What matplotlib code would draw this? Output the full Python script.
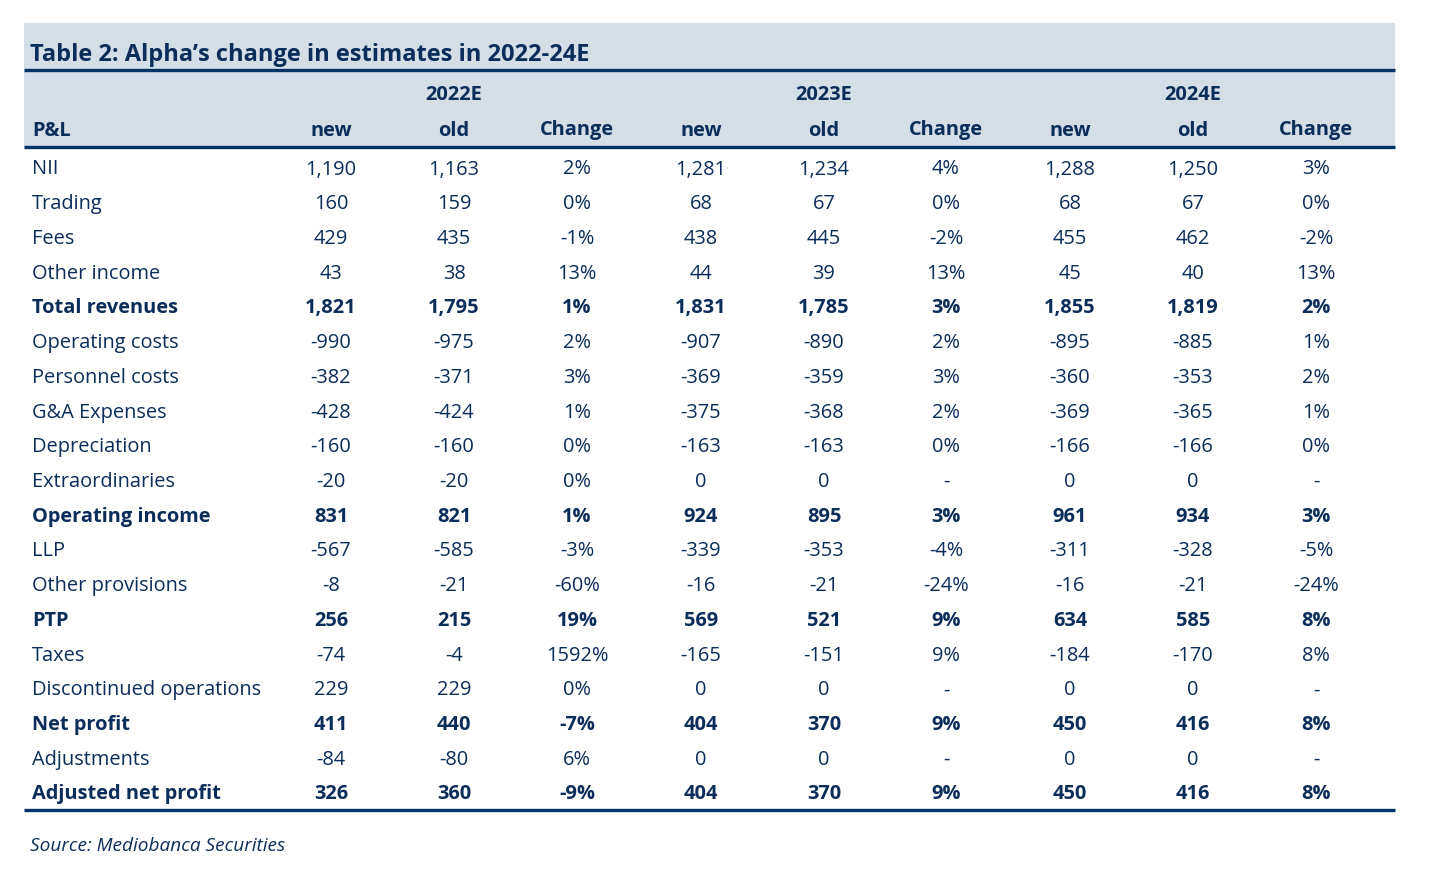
import matplotlib.pyplot as plt
from matplotlib.patches import Rectangle

plt.rcParams['font.family'] = ['Open Sans', 'DejaVu Sans']

title = "Table 2: Alpha\u2019s change in estimates in 2022-24E"
years = ["2022E", "2023E", "2024E"]
subcols = ["new", "old", "Change"]
source = "Source: Mediobanca Securities"

rows = ["NII", "Trading", "Fees", "Other income", "Total revenues", "Operating costs",
        "Personnel costs", "G&A Expenses", "Depreciation", "Extraordinaries",
        "Operating income", "LLP", "Other provisions", "PTP", "Taxes",
        "Discontinued operations", "Net profit", "Adjustments", "Adjusted net profit"]
bold_rows = ["Total revenues", "Operating income", "PTP", "Net profit", "Adjusted net profit"]

new_2022 = ["1,190", "160", "429", "43", "1,821", "-990", "-382", "-428", "-160", "-20",
            "831", "-567", "-8", "256", "-74", "229", "411", "-84", "326"]
old_2022 = ["1,163", "159", "435", "38", "1,795", "-975", "-371", "-424", "-160", "-20",
            "821", "-585", "-21", "215", "-4", "229", "440", "-80", "360"]
chg_2022 = ["2%", "0%", "-1%", "13%", "1%", "2%", "3%", "1%", "0%", "0%",
            "1%", "-3%", "-60%", "19%", "1592%", "0%", "-7%", "6%", "-9%"]
new_2023 = ["1,281", "68", "438", "44", "1,831", "-907", "-369", "-375", "-163", "0",
            "924", "-339", "-16", "569", "-165", "0", "404", "0", "404"]
old_2023 = ["1,234", "67", "445", "39", "1,785", "-890", "-359", "-368", "-163", "0",
            "895", "-353", "-21", "521", "-151", "0", "370", "0", "370"]
chg_2023 = ["4%", "0%", "-2%", "13%", "3%", "2%", "3%", "2%", "0%", "-",
            "3%", "-4%", "-24%", "9%", "9%", "-", "9%", "-", "9%"]
new_2024 = ["1,288", "68", "455", "45", "1,855", "-895", "-360", "-369", "-166", "0",
            "961", "-311", "-16", "634", "-184", "0", "450", "0", "450"]
old_2024 = ["1,250", "67", "462", "40", "1,819", "-885", "-353", "-365", "-166", "0",
            "934", "-328", "-21", "585", "-170", "0", "416", "0", "416"]
chg_2024 = ["3%", "0%", "-2%", "13%", "2%", "1%", "2%", "1%", "0%", "-",
            "3%", "-5%", "-24%", "8%", "8%", "-", "8%", "-", "8%"]

columns = [new_2022, old_2022, chg_2022, new_2023, old_2023, chg_2023,
           new_2024, old_2024, chg_2024]

navy = "#0B2D5A"
line_c = "#003366"
band = "#D3DEE6"

W, H = 1430, 873
fig = plt.figure(figsize=(W / 100, H / 100), dpi=100)
ax = fig.add_axes([0, 0, 1, 1])
ax.set_xlim(0, W)
ax.set_ylim(H, 0)
ax.axis("off")

left, right = 24, 1395
col_x = [331, 454, 577, 701, 824, 946, 1070, 1193, 1316]
year_x = [454, 824, 1193]

# bands
ax.add_patch(Rectangle((left, 23), right - left, 46, color=band, lw=0))
ax.add_patch(Rectangle((left, 70), right - left, 77, color=band, lw=0))
for y in [69.5, 147, 810]:
    ax.plot([left, right], [y, y], color=line_c, lw=2.4, solid_capstyle="butt")

fs = 14.4
va = "center_baseline"
ax.text(30, 52, title, fontsize=17, fontweight="bold", color=navy, va=va)
for x, yr in zip(year_x, years):
    ax.text(x, 92, yr, fontsize=fs, fontweight="bold", color=navy, ha="center", va=va)
ax.text(32, 128, "P&L", fontsize=fs, fontweight="bold", color=navy, va=va)
for i, x in enumerate(col_x):
    ax.text(x, 128, subcols[i % 3], fontsize=fs, fontweight="bold", color=navy,
            ha="center", va=va)

y0, dy = 167, 34.72
for r, name in enumerate(rows):
    y = y0 + r * dy
    wt = "bold" if name in bold_rows else "normal"
    ax.text(32, y, name, fontsize=fs, fontweight=wt, color=navy, va=va)
    for x, col in zip(col_x, columns):
        ax.text(x, y, col[r], fontsize=fs, fontweight=wt, color=navy,
                ha="center", va=va)

ax.text(30, 844, source, fontsize=13.7, style="italic", color=navy, va=va)

fig.savefig("out.png", dpi=100)
